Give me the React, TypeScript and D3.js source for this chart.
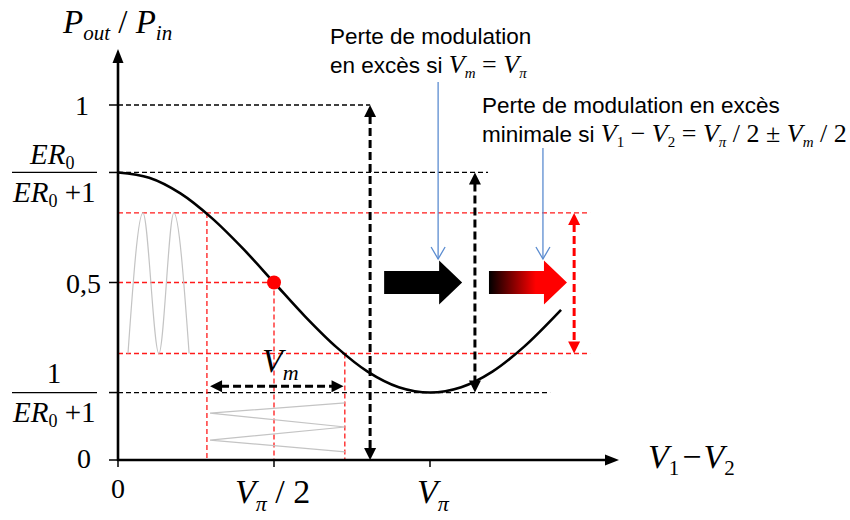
import React from "react";
import * as d3 from "d3";

// Transfer curve (V in units of Vπ, P = Pout/Pin)
const curveV = [0, 0.1, 0.2, 0.3, 0.4, 0.5, 0.6, 0.7, 0.8, 0.9, 1.0, 1.1, 1.2, 1.3, 1.42];
const curveP = [0.81, 0.795, 0.751, 0.682, 0.596, 0.5, 0.404, 0.318, 0.249, 0.205, 0.19, 0.205, 0.249, 0.318, 0.423];

// Levels
const levelOne = 1;
const erHigh = 0.81;
const erLow = 0.19;
const midLevel = 0.5;
const swingHigh = 0.696;
const swingLow = 0.3;

// Voltages
const xTickValues = [0, 0.5, 1];
const vmLeft = 0.285;
const vmRight = 0.727;
const biasPoint = 0.5;

// Optical signal (left, gray) : time along x, power along y
const inputWaveT = [0.032, 0.08, 0.131, 0.179, 0.228];
const inputWaveP = [0.3, 0.696, 0.3, 0.696, 0.3];

// Drive voltage (bottom, gray): voltage along x, time along y
const driveWaveV = [0.728, 0.295, 0.728, 0.295, 0.728];
const driveWaveT = [0.161, 0.132, 0.093, 0.056, 0.023];

// Annotation positions (data units)
const arrowOneV = 0.808;
const arrowErV = 1.144;
const arrowRedV = 1.462;
const vmArrowP = 0.208;
const blackBlockV = [0.853, 1.103];
const gradBlockV = [1.189, 1.439];
const blueArrowV = [1.026, 1.362];

const W = 850;
const H = 520;
const x = d3.scaleLinear().domain([0, 1]).range([118, 430]);
const y = d3.scaleLinear().domain([0, 1]).range([460, 105]);

const SERIF = "'Liberation Serif', 'Times New Roman', serif";
const SANS = "'Liberation Sans', Arial, sans-serif";
const RED = "#ff1a1a";
const BLUE = "#5b8cd0";

function BlockArrow({ x0, x1, yc, fill }: { x0: number; x1: number; yc: number; fill: string }) {
  const len = x1 - x0;
  const headLen = len * 0.295;
  const bodyH = 11.5;
  const headH = 22;
  const xb = x1 - headLen;
  const pts = [
    [x0, yc - bodyH],
    [xb, yc - bodyH],
    [xb, yc - headH],
    [x1, yc],
    [xb, yc + headH],
    [xb, yc + bodyH],
    [x0, yc + bodyH],
  ];
  return <polygon points={pts.map((p) => p.join(",")).join(" ")} fill={fill} />;
}

function VDoubleArrow({ xv, y0, y1, color }: { xv: number; y0: number; y1: number; color: string }) {
  const hl = 12;
  const hw = 6;
  return (
    <g>
      <line x1={xv} x2={xv} y1={y0 + hl - 1} y2={y1 - hl + 1} stroke={color} strokeWidth={3} strokeDasharray="8,4" />
      <polygon points={`${xv},${y0} ${xv - hw},${y0 + hl} ${xv + hw},${y0 + hl}`} fill={color} />
      <polygon points={`${xv},${y1} ${xv - hw},${y1 - hl} ${xv + hw},${y1 - hl}`} fill={color} />
    </g>
  );
}

export default function App() {
  const curveLine = d3
    .line<number>()
    .x((d) => x(curveV[d]))
    .y((d) => y(curveP[d]))
    .curve(d3.curveCatmullRom.alpha(0.5));
  const curvePath = curveLine(curveV.map((_, i) => i)) || "";

  const inWave = d3
    .line<number>()
    .x((d) => x(inputWaveT[d]))
    .y((d) => y(inputWaveP[d]))
    .curve(d3.curveMonotoneX);
  const inPath = inWave(inputWaveT.map((_, i) => i)) || "";

  const drvWave = d3
    .line<number>()
    .x((d) => x(driveWaveV[d]))
    .y((d) => y(driveWaveT[d]))
    .curve(d3.curveLinear);
  const drvPath = drvWave(driveWaveV.map((_, i) => i)) || "";

  const x0 = x(0);
  const y0 = y(0);
  const yTicks = [0, erLow, midLevel, erHigh, levelOne];

  const blkThin = { stroke: "#000", strokeWidth: 1.3, strokeDasharray: "5,3" };
  const redThin = { stroke: RED, strokeWidth: 1.3, strokeDasharray: "5,3" };

  const yc = y(midLevel);
  const SF = 22.5;
  const MF = 26;
  const SUBF = 15;

  return (
    <svg width={W} height={H} style={{ position: "absolute", left: 0, top: 0, background: "#fff" }}>
      <defs>
        <linearGradient id="gradArrow" x1="0" x2="1" y1="0" y2="0">
          <stop offset="0" stopColor="#000" />
          <stop offset="0.6" stopColor="#ff0000" />
          <stop offset="1" stopColor="#ff0000" />
        </linearGradient>
      </defs>

      {/* black dashed guide lines */}
      <line x1={x0} x2={x(arrowOneV)} y1={y(levelOne)} y2={y(levelOne)} {...blkThin} />
      <line x1={x0} x2={x(1.186)} y1={y(erHigh)} y2={y(erHigh)} {...blkThin} />
      <line x1={x0} x2={x(1.385)} y1={y(erLow)} y2={y(erLow)} {...blkThin} />

      {/* red dashed guide lines */}
      <line x1={x0} x2={x(1.513)} y1={y(swingHigh)} y2={y(swingHigh)} {...redThin} />
      <line x1={x0} x2={x(1.513)} y1={y(swingLow)} y2={y(swingLow)} {...redThin} />
      <line x1={x0} x2={x(biasPoint)} y1={y(midLevel)} y2={y(midLevel)} {...redThin} />
      <line x1={x(vmLeft)} x2={x(vmLeft)} y1={y(swingHigh)} y2={y0} {...redThin} />
      <line x1={x(biasPoint)} x2={x(biasPoint)} y1={y(midLevel)} y2={y0} {...redThin} />
      <line x1={x(vmRight)} x2={x(vmRight)} y1={y(swingLow)} y2={y0} {...redThin} />

      {/* gray signals */}
      <path d={inPath} fill="none" stroke="#c4c4c4" strokeWidth={1.2} />
      <path d={drvPath} fill="none" stroke="#c4c4c4" strokeWidth={1.2} />

      {/* transfer curve */}
      <path d={curvePath} fill="none" stroke="#000" strokeWidth={2.6} />

      {/* bias point */}
      <circle cx={x(biasPoint)} cy={y(midLevel)} r={7} fill="#ff0000" />

      {/* double arrows */}
      <VDoubleArrow xv={x(arrowOneV)} y0={y(levelOne)} y1={y0} color="#000" />
      <VDoubleArrow xv={x(arrowErV)} y0={y(erHigh)} y1={y(erLow)} color="#000" />
      <VDoubleArrow xv={x(arrowRedV)} y0={y(swingHigh)} y1={y(swingLow)} color="#ff0000" />

      {/* Vm arrow */}
      <g>
        <line x1={x(0.295) + 11} x2={x(0.723) - 11} y1={y(vmArrowP)} y2={y(vmArrowP)} stroke="#000" strokeWidth={3} strokeDasharray="8,4" />
        <polygon points={`${x(0.295)},${y(vmArrowP)} ${x(0.295) + 12},${y(vmArrowP) - 6} ${x(0.295) + 12},${y(vmArrowP) + 6}`} fill="#000" />
        <polygon points={`${x(0.723)},${y(vmArrowP)} ${x(0.723) - 12},${y(vmArrowP) - 6} ${x(0.723) - 12},${y(vmArrowP) + 6}`} fill="#000" />
      </g>
      <text x={262} y={372} fontFamily={SERIF} fontSize={34} fontStyle="italic">
        V<tspan fontSize={22} dy={8}>m</tspan>
      </text>

      {/* block arrows */}
      <BlockArrow x0={x(blackBlockV[0])} x1={x(blackBlockV[1])} yc={yc} fill="#000" />
      <BlockArrow x0={x(gradBlockV[0])} x1={x(gradBlockV[1])} yc={yc} fill="url(#gradArrow)" />

      {/* blue pointers */}
      {[82, 148].map((top, i) => {
        const bx = x(blueArrowV[i]);
        const tip = 259;
        return (
          <g key={i} stroke={BLUE} strokeWidth={1.3} fill="none">
            <line x1={bx} x2={bx} y1={top} y2={tip} />
            <polyline points={`${bx - 7},${tip - 12} ${bx},${tip} ${bx + 7},${tip - 12}`} />
          </g>
        );
      })}

      {/* axes */}
      <line x1={x0} x2={x0} y1={y0 + 1} y2={60} stroke="#000" strokeWidth={2.6} />
      <polygon points={`${x0},49 ${x0 - 5.5},63 ${x0 + 5.5},63`} fill="#000" />
      <line x1={x0 - 1} x2={608} y1={y0} y2={y0} stroke="#000" strokeWidth={2.6} />
      <polygon points={`619,${y0} 605,${y0 - 5.5} 605,${y0 + 5.5}`} fill="#000" />

      {yTicks.map((t) => (
        <line key={t} x1={x0 - 9} x2={x0 + 1} y1={y(t)} y2={y(t)} stroke="#000" strokeWidth={1.5} />
      ))}
      {xTickValues.map((t) => (
        <line key={t} x1={x(t)} x2={x(t)} y1={y0} y2={y0 + 7} stroke="#000" strokeWidth={1.5} />
      ))}

      {/* y labels */}
      <text x={63} y={33} fontFamily={SERIF} fontSize={33} fontStyle="italic">
        P<tspan fontSize={21} dy={7}>out</tspan>
        <tspan dy={-7} fontStyle="normal"> / </tspan>
        <tspan>P</tspan>
        <tspan fontSize={21} dy={7}>in</tspan>
      </text>
      <text x={89} y={y(levelOne) + 10} fontFamily={SERIF} fontSize={28} textAnchor="end">1</text>
      <text x={101} y={y(midLevel) + 10} fontFamily={SERIF} fontSize={28} textAnchor="end">0,5</text>
      <text x={91} y={y(0) + 8} fontFamily={SERIF} fontSize={28} textAnchor="end">0</text>

      {/* ER0/(ER0+1) */}
      <line x1={12} x2={97} y1={y(erHigh)} y2={y(erHigh)} stroke="#000" strokeWidth={1.3} />
      <text x={30} y={164} fontFamily={SERIF} fontSize={29} fontStyle="italic">
        ER<tspan fontSize={18} dy={5} fontStyle="normal">0</tspan>
      </text>
      <text x={13} y={202} fontFamily={SERIF} fontSize={29} fontStyle="italic">
        ER<tspan fontSize={18} dy={5} fontStyle="normal">0</tspan>
        <tspan dy={-5} fontStyle="normal"> +1</tspan>
      </text>

      {/* 1/(ER0+1) */}
      <line x1={12} x2={97} y1={y(erLow)} y2={y(erLow)} stroke="#000" strokeWidth={1.3} />
      <text x={54} y={383} fontFamily={SERIF} fontSize={29} textAnchor="middle">1</text>
      <text x={13} y={422} fontFamily={SERIF} fontSize={29} fontStyle="italic">
        ER<tspan fontSize={18} dy={5} fontStyle="normal">0</tspan>
        <tspan dy={-5} fontStyle="normal"> +1</tspan>
      </text>

      {/* x labels */}
      <text x={x(0)} y={498} fontFamily={SERIF} fontSize={28} textAnchor="middle">0</text>
      <text x={235} y={503} fontFamily={SERIF} fontSize={34} fontStyle="italic">
        V<tspan fontSize={22} dy={8}>π</tspan>
        <tspan dy={-8} fontStyle="normal"> / 2</tspan>
      </text>
      <text x={417} y={503} fontFamily={SERIF} fontSize={34} fontStyle="italic">
        V<tspan fontSize={22} dy={8}>π</tspan>
      </text>
      <text x={648} y={468} fontFamily={SERIF} fontSize={34} fontStyle="italic">
        V<tspan fontSize={21} dy={7} fontStyle="normal">1</tspan>
        <tspan dy={-7} fontStyle="normal" dx={3}>−</tspan>
        <tspan dx={2}>V</tspan>
        <tspan fontSize={21} dy={7} fontStyle="normal">2</tspan>
      </text>

      {/* annotations */}
      <text x={330} y={44} fontFamily={SANS} fontSize={SF}>Perte de modulation</text>
      <text x={330} y={73} fontFamily={SANS} fontSize={SF}>
        en excès si{" "}
        <tspan fontFamily={SERIF} fontStyle="italic" fontSize={MF}>V</tspan>
        <tspan fontFamily={SERIF} fontStyle="italic" fontSize={SUBF} dy={5}>m</tspan>
        <tspan fontFamily={SERIF} fontSize={MF} dy={-5}> = </tspan>
        <tspan fontFamily={SERIF} fontStyle="italic" fontSize={MF}>V</tspan>
        <tspan fontFamily={SERIF} fontStyle="italic" fontSize={SUBF} dy={5}>π</tspan>
      </text>
      <text x={482} y={113} fontFamily={SANS} fontSize={SF}>Perte de modulation en excès</text>
      <text x={482} y={142} fontFamily={SANS} fontSize={SF}>
        minimale si{" "}
        <tspan fontFamily={SERIF} fontStyle="italic" fontSize={MF}>V</tspan>
        <tspan fontFamily={SERIF} fontSize={SUBF} dy={5}>1</tspan>
        <tspan fontFamily={SERIF} fontSize={MF} dy={-5}> − </tspan>
        <tspan fontFamily={SERIF} fontStyle="italic" fontSize={MF}>V</tspan>
        <tspan fontFamily={SERIF} fontSize={SUBF} dy={5}>2</tspan>
        <tspan fontFamily={SERIF} fontSize={MF} dy={-5}> = </tspan>
        <tspan fontFamily={SERIF} fontStyle="italic" fontSize={MF}>V</tspan>
        <tspan fontFamily={SERIF} fontStyle="italic" fontSize={SUBF} dy={5}>π</tspan>
        <tspan fontFamily={SERIF} fontSize={MF} dy={-5}> / 2 ± </tspan>
        <tspan fontFamily={SERIF} fontStyle="italic" fontSize={MF}>V</tspan>
        <tspan fontFamily={SERIF} fontStyle="italic" fontSize={SUBF} dy={5}>m</tspan>
        <tspan fontFamily={SERIF} fontSize={MF} dy={-5}> / 2</tspan>
      </text>
    </svg>
  );
}
